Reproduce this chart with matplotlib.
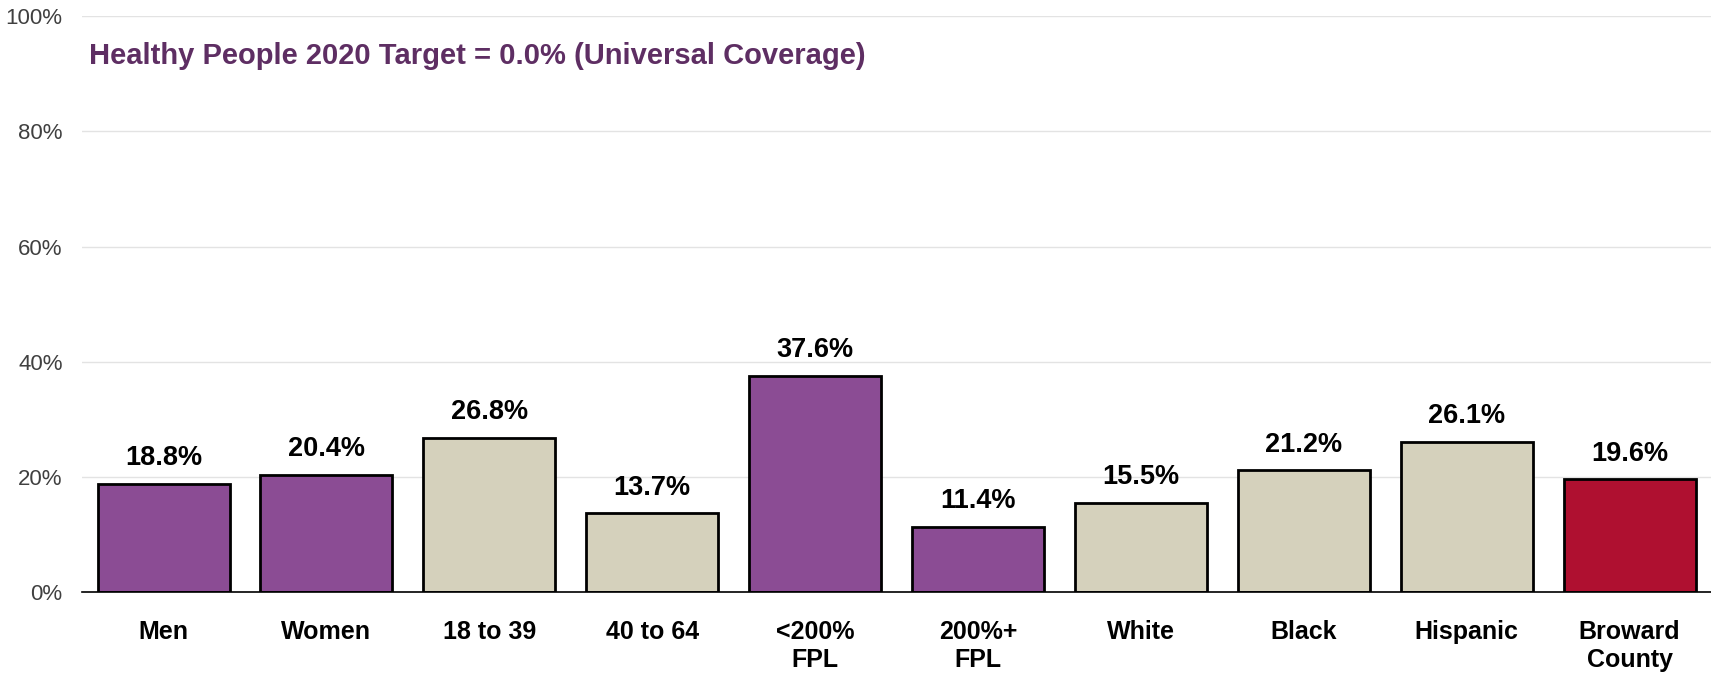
import matplotlib.pyplot as plt
from matplotlib.ticker import PercentFormatter

# chart data
categories = ['Men', 'Women', '18 to 39', '40 to 64', '<200%\nFPL', '200%+\nFPL',
              'White', 'Black', 'Hispanic', 'Broward\nCounty']
values = [18.8, 20.4, 26.8, 13.7, 37.6, 11.4, 15.5, 21.2, 26.1, 19.6]
groups = ['hl', 'hl', 'base', 'base', 'hl', 'hl', 'base', 'base', 'base', 'county']

palette = {'hl': '#8B4C94', 'base': '#D5D1BC', 'county': '#AF1030'}
colors = [palette[g] for g in groups]

plt.rcParams['font.family'] = ['Liberation Sans', 'DejaVu Sans']

fig = plt.figure(figsize=(17.11, 6.73), dpi=100)
ax = fig.add_axes([0.048, 0.12, 0.952, 0.856])

x = range(len(categories))
bars = ax.bar(x, values, width=0.81, color=colors, edgecolor='black', linewidth=2, zorder=3)

for b, v in zip(bars, values):
    ax.annotate(f'{v:.1f}%', (b.get_x() + b.get_width() / 2, v), xytext=(0, 9),
                textcoords='offset points', ha='center', va='bottom',
                fontsize=19.5, fontweight='bold', color='black')

ax.set_xlim(-0.5, len(categories) - 0.5)
ax.set_ylim(0, 100)
ax.set_yticks([0, 20, 40, 60, 80, 100])
ax.yaxis.set_major_formatter(PercentFormatter(decimals=0))
ax.grid(axis='y', color='#E3E3E3', linewidth=1, zorder=0)
ax.set_xticks(list(x))
ax.set_xticklabels(categories, fontsize=18, fontweight='bold', linespacing=1.2)
ax.tick_params(axis='x', length=0, pad=20)
ax.tick_params(axis='y', length=0, pad=14, labelsize=16, labelcolor='#404040')

for s in ['top', 'right', 'left']:
    ax.spines[s].set_visible(False)
ax.spines['bottom'].set_color('black')
ax.spines['bottom'].set_linewidth(1.2)
ax.spines['bottom'].set_zorder(4)

ax.text(0.004, 0.93, 'Healthy People 2020 Target = 0.0% (Universal Coverage)',
        transform=ax.transAxes, ha='left', va='center', fontsize=21,
        fontweight='bold', color='#5E2E63')

fig.savefig('out.png', dpi=100)
